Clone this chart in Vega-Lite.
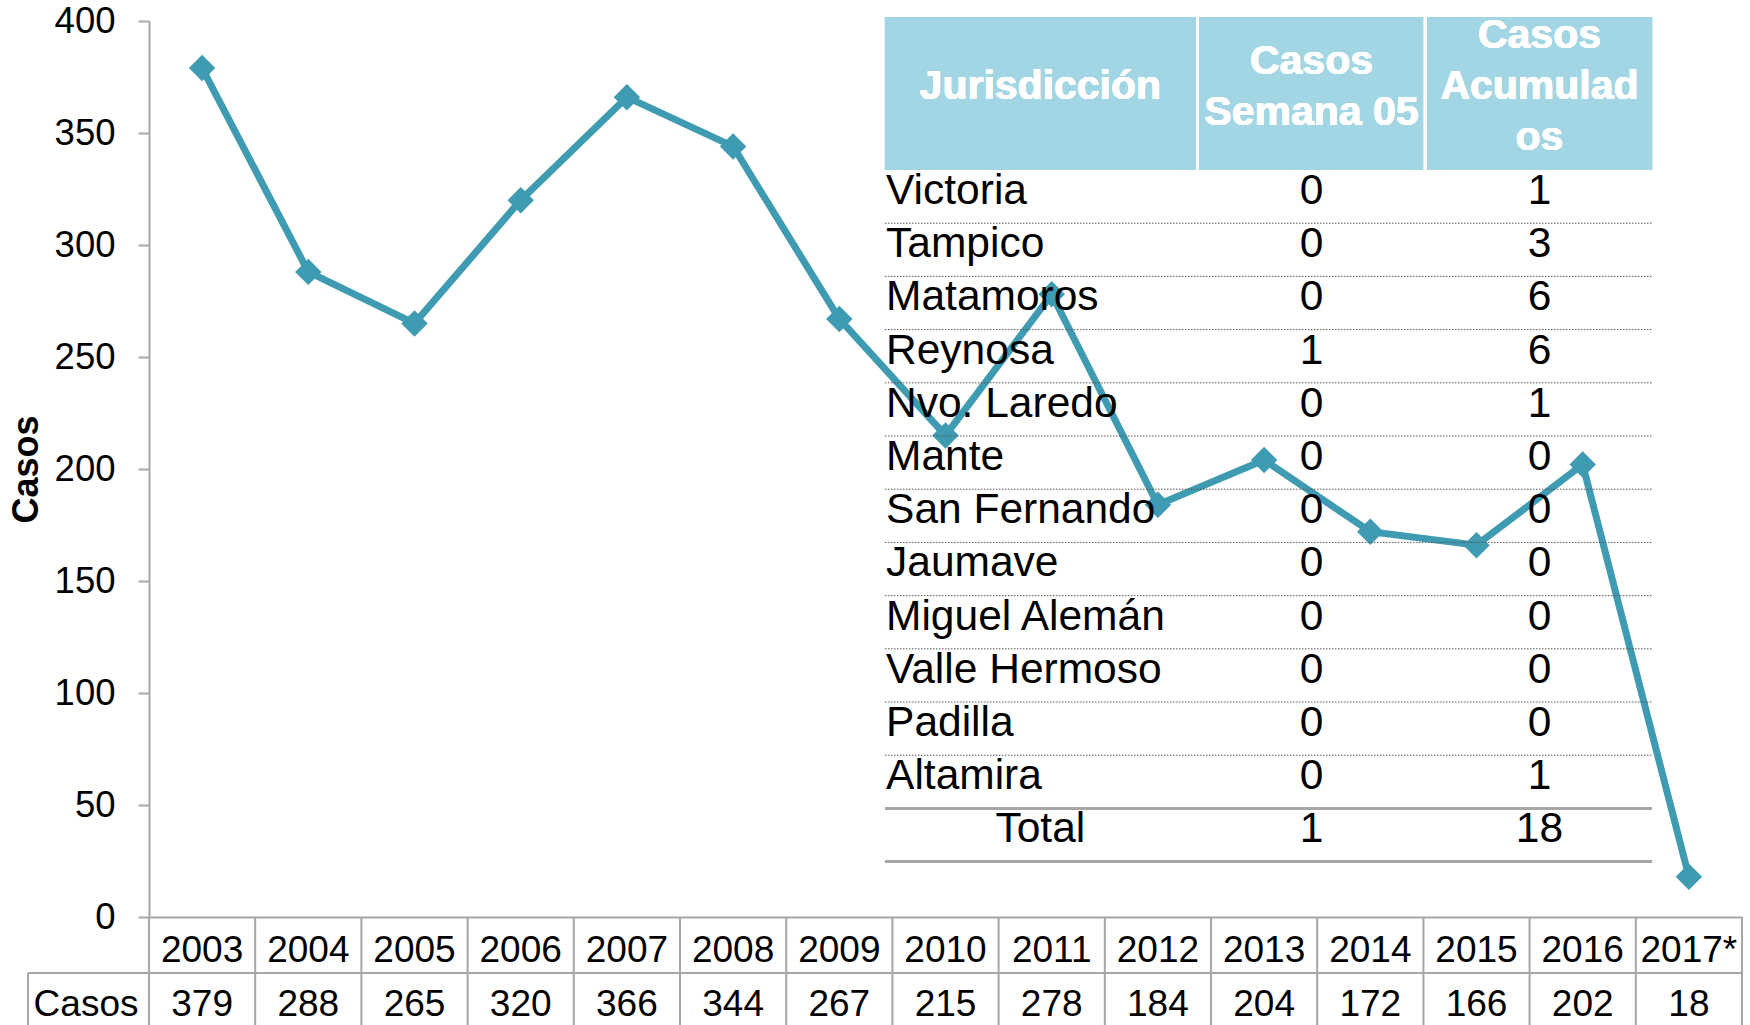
{
  "$schema": "https://vega.github.io/schema/vega-lite/v6.json",
  "width": 1593,
  "height": 896,
  "autosize": {"type": "none"},
  "padding": {"left": 149, "top": 21, "right": 8, "bottom": 108},
  "background": "white",
  "config": {"font": "Liberation Sans", "view": {"stroke": null}},
  "datasets": {
    "anios": [
      {"anio": "2003", "casos": 379},
      {"anio": "2004", "casos": 288},
      {"anio": "2005", "casos": 265},
      {"anio": "2006", "casos": 320},
      {"anio": "2007", "casos": 366},
      {"anio": "2008", "casos": 344},
      {"anio": "2009", "casos": 267},
      {"anio": "2010", "casos": 215},
      {"anio": "2011", "casos": 278},
      {"anio": "2012", "casos": 184},
      {"anio": "2013", "casos": 204},
      {"anio": "2014", "casos": 172},
      {"anio": "2015", "casos": 166},
      {"anio": "2016", "casos": 202},
      {"anio": "2017*", "casos": 18}
    ],
    "jurisdicciones": [
      {"fila": 0, "jurisdiccion": "Victoria", "semana": 0, "acumulados": 1},
      {"fila": 1, "jurisdiccion": "Tampico", "semana": 0, "acumulados": 3},
      {"fila": 2, "jurisdiccion": "Matamoros", "semana": 0, "acumulados": 6},
      {"fila": 3, "jurisdiccion": "Reynosa", "semana": 1, "acumulados": 6},
      {"fila": 4, "jurisdiccion": "Nvo. Laredo", "semana": 0, "acumulados": 1},
      {"fila": 5, "jurisdiccion": "Mante", "semana": 0, "acumulados": 0},
      {"fila": 6, "jurisdiccion": "San Fernando", "semana": 0, "acumulados": 0},
      {"fila": 7, "jurisdiccion": "Jaumave", "semana": 0, "acumulados": 0},
      {"fila": 8, "jurisdiccion": "Miguel Alemán", "semana": 0, "acumulados": 0},
      {"fila": 9, "jurisdiccion": "Valle Hermoso", "semana": 0, "acumulados": 0},
      {"fila": 10, "jurisdiccion": "Padilla", "semana": 0, "acumulados": 0},
      {"fila": 11, "jurisdiccion": "Altamira", "semana": 0, "acumulados": 1},
      {"fila": 12, "jurisdiccion": "Total", "semana": 1, "acumulados": 18}
    ],
    "etiqueta": [{"serie": "Casos"}]
  },
  "layer": [
    {
      "data": {"name": "anios"},
      "encoding": {
        "x": {
          "field": "anio", "type": "nominal", "sort": null,
          "scale": {"paddingInner": 0, "paddingOuter": 0},
          "axis": {
            "orient": "bottom",
            "title": null, "labelAngle": 0, "labelFontSize": 37, "labelColor": "black",
            "ticks": false, "labelPadding": 33, "labelBaseline": "middle",
            "domainColor": "#A6A6A6", "domainWidth": 2, "grid": false
          }
        }
      },
      "layer": [
        {
          "mark": {"type": "rule", "color": "#A6A6A6", "strokeWidth": 2},
          "encoding": {
            "x": {"field": "anio", "type": "nominal", "sort": null, "bandPosition": 0},
            "y": {"datum": 0, "type": "quantitative"},
            "y2": {"datum": -60}
          }
        },
        {
          "transform": [{"filter": "datum.anio == '2017*'"}],
          "mark": {"type": "rule", "color": "#A6A6A6", "strokeWidth": 2},
          "encoding": {
            "x": {"field": "anio", "type": "nominal", "sort": null, "bandPosition": 1},
            "y": {"datum": 0, "type": "quantitative"},
            "y2": {"datum": -60}
          }
        },
        {
          "mark": {"type": "text", "fontSize": 37, "color": "black", "baseline": "middle", "align": "center"},
          "encoding": {
            "y": {"datum": -39.3, "type": "quantitative"},
            "text": {"field": "casos", "type": "quantitative"}
          }
        },
        {
          "mark": {
            "type": "line", "color": "#3E9BB1", "strokeWidth": 7,
            "point": {"shape": "diamond", "size": 700, "filled": true, "color": "#3E9BB1", "opacity": 1}
          },
          "encoding": {
            "y": {
              "field": "casos", "type": "quantitative",
              "scale": {"domain": [0, 400], "nice": false, "zero": true},
              "axis": {
                "orient": "left",
                "values": [0, 50, 100, 150, 200, 250, 300, 350, 400],
                "title": "Casos", "titleFontSize": 36, "titleFontWeight": "bold", "titleColor": "black",
                "titlePadding": 9,
                "labelFontSize": 36.5, "labelColor": "black", "labelPadding": 23,
                "tickSize": 11, "tickColor": "#A6A6A6", "tickWidth": 2,
                "domainColor": "#A6A6A6", "domainWidth": 2, "grid": false
              }
            }
          }
        }
      ]
    },
    {
      "data": {"name": "etiqueta"},
      "encoding": {},
      "layer": [
        {
          "mark": {"type": "rule", "color": "#A6A6A6", "strokeWidth": 2},
          "encoding": {
            "x": {"datum": -1.139, "type": "quantitative", "scale": {"domain": [0, 15], "nice": false, "zero": false}, "axis": null},
            "x2": {"datum": 15},
            "y": {"datum": -25, "type": "quantitative", "scale": {"domain": [0, 400], "nice": false, "zero": false}, "axis": null}
          }
        },
        {
          "mark": {"type": "rule", "color": "#A6A6A6", "strokeWidth": 2},
          "encoding": {
            "x": {"datum": -1.139, "type": "quantitative"},
            "y": {"datum": -25, "type": "quantitative"},
            "y2": {"datum": -60}
          }
        },
        {
          "mark": {"type": "text", "fontSize": 37, "color": "black", "baseline": "middle", "align": "center"},
          "encoding": {
            "x": {"datum": -0.593, "type": "quantitative"},
            "y": {"datum": -39.3, "type": "quantitative"},
            "text": {"field": "serie"}
          }
        }
      ]
    },
    {
      "data": {"name": "jurisdicciones"},
      "encoding": {},
      "layer": [
        {
          "mark": {"type": "rect", "color": "#A3D6E4"},
          "encoding": {
            "x": {"datum": 6.93, "type": "quantitative", "scale": {"domain": [0, 15], "nice": false, "zero": false}, "axis": null},
            "x2": {"datum": 14.153},
            "y": {"datum": -2.876, "type": "quantitative", "scale": {"domain": [-2.801, 14.041], "reverse": true, "nice": false, "zero": false}, "axis": null},
            "y2": {"datum": 0}
          }
        },
        {
          "mark": {"type": "rule", "color": "white", "strokeWidth": 3},
          "encoding": {
            "x": {"datum": 9.873, "type": "quantitative"},
            "y": {"datum": -2.876, "type": "quantitative"},
            "y2": {"datum": 0}
          }
        },
        {
          "mark": {"type": "rule", "color": "white", "strokeWidth": 3},
          "encoding": {
            "x": {"datum": 12.019, "type": "quantitative"},
            "y": {"datum": -2.876, "type": "quantitative"},
            "y2": {"datum": 0}
          }
        },
        {
          "mark": {"type": "text", "fontSize": 41, "fontWeight": "bold", "color": "white", "baseline": "alphabetic", "align": "center", "lineHeight": 52},
          "encoding": {
            "x": {"datum": 8.393, "type": "quantitative"},
            "y": {"datum": -1.335, "type": "quantitative"},
            "text": {"value": "Jurisdicción"}
          }
        },
        {
          "mark": {"type": "text", "fontSize": 41, "fontWeight": "bold", "color": "white", "baseline": "alphabetic", "align": "center", "lineHeight": 51},
          "encoding": {
            "x": {"datum": 10.946, "type": "quantitative"},
            "y": {"datum": -1.805, "type": "quantitative"},
            "text": {"value": ["Casos", "Semana 05"]}
          }
        },
        {
          "mark": {"type": "text", "fontSize": 41, "fontWeight": "bold", "color": "white", "baseline": "alphabetic", "align": "center", "lineHeight": 51},
          "encoding": {
            "x": {"datum": 13.093, "type": "quantitative"},
            "y": {"datum": -2.2935, "type": "quantitative"},
            "text": {"value": ["Casos", "Acumulad", "os"]}
          }
        },
        {
          "transform": [{"filter": "datum.fila >= 1 && datum.fila <= 11"}],
          "mark": {"type": "rule", "color": "#555555", "strokeWidth": 1, "strokeDash": [1.5, 1.5]},
          "encoding": {
            "x": {"datum": 6.93, "type": "quantitative"},
            "x2": {"datum": 14.153},
            "y": {"field": "fila", "type": "quantitative"}
          }
        },
        {
          "transform": [{"filter": "datum.fila == 12"}],
          "mark": {"type": "rule", "color": "#A6A6A6", "strokeWidth": 3},
          "encoding": {
            "x": {"datum": 6.93, "type": "quantitative"},
            "x2": {"datum": 14.153},
            "y": {"field": "fila", "type": "quantitative"}
          }
        },
        {
          "transform": [{"filter": "datum.fila == 12"}],
          "mark": {"type": "rule", "color": "#A6A6A6", "strokeWidth": 3},
          "encoding": {
            "x": {"datum": 6.93, "type": "quantitative"},
            "x2": {"datum": 14.153},
            "y": {"datum": 13, "type": "quantitative"}
          }
        },
        {
          "transform": [{"filter": "datum.fila < 12"}],
          "mark": {"type": "text", "fontSize": 42.5, "color": "black", "baseline": "alphabetic", "align": "left", "dy": 34},
          "encoding": {
            "x": {"datum": 6.94, "type": "quantitative"},
            "y": {"field": "fila", "type": "quantitative"},
            "text": {"field": "jurisdiccion"}
          }
        },
        {
          "transform": [{"filter": "datum.fila == 12"}],
          "mark": {"type": "text", "fontSize": 42.5, "color": "black", "baseline": "alphabetic", "align": "center", "dy": 34},
          "encoding": {
            "x": {"datum": 8.393, "type": "quantitative"},
            "y": {"field": "fila", "type": "quantitative"},
            "text": {"field": "jurisdiccion"}
          }
        },
        {
          "mark": {"type": "text", "fontSize": 42.5, "color": "black", "baseline": "alphabetic", "align": "center", "dy": 34},
          "encoding": {
            "x": {"datum": 10.946, "type": "quantitative"},
            "y": {"field": "fila", "type": "quantitative"},
            "text": {"field": "semana", "type": "quantitative"}
          }
        },
        {
          "mark": {"type": "text", "fontSize": 42.5, "color": "black", "baseline": "alphabetic", "align": "center", "dy": 34},
          "encoding": {
            "x": {"datum": 13.093, "type": "quantitative"},
            "y": {"field": "fila", "type": "quantitative"},
            "text": {"field": "acumulados", "type": "quantitative"}
          }
        }
      ]
    }
  ],
  "resolve": {"scale": {"x": "independent", "y": "independent"}}
}
